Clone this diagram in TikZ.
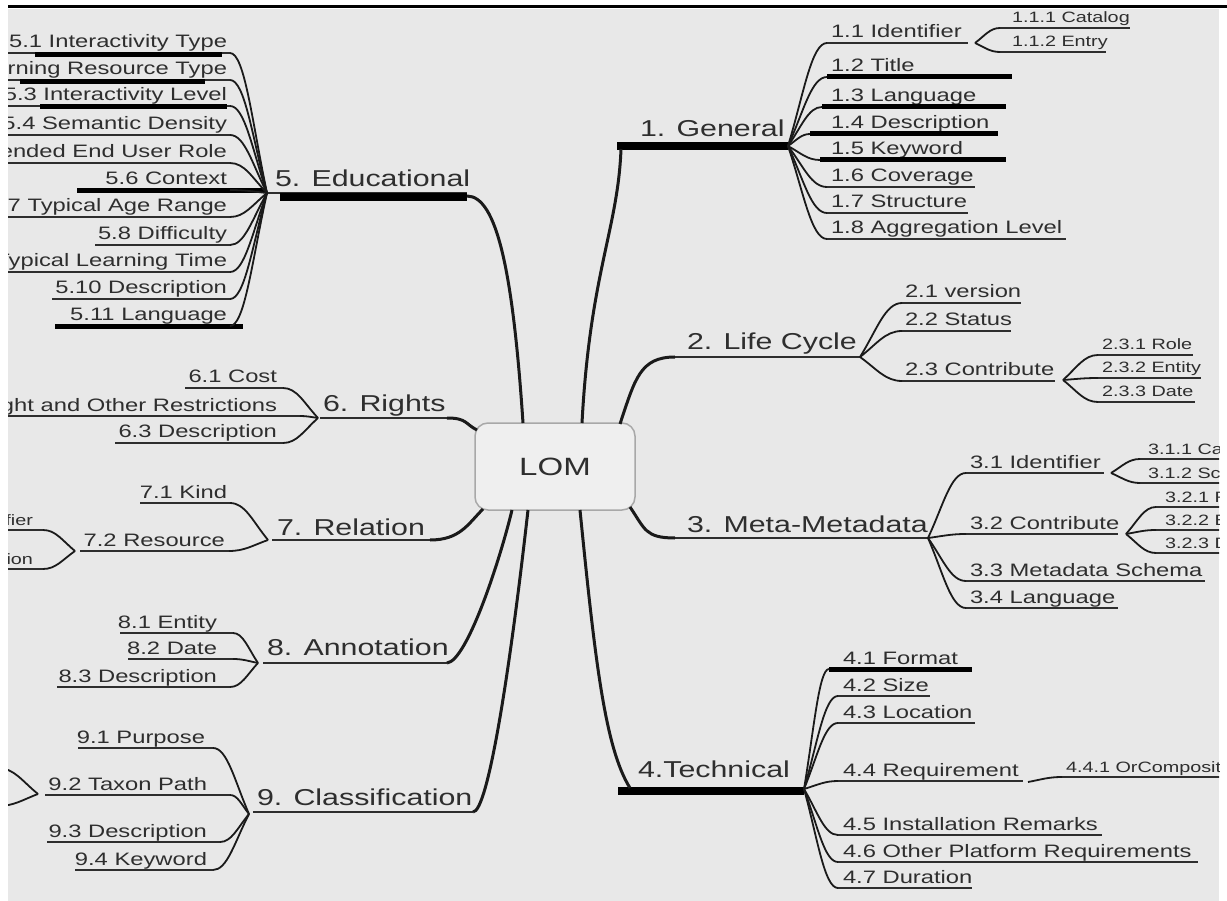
\documentclass[tikz,border=0pt]{standalone}
\usepackage{fontspec}
\usetikzlibrary{calc}
\newfontfamily\mapfont[FakeStretch=1.32]{Liberation Sans}
\definecolor{paper}{HTML}{E8E8E8}
\definecolor{ink}{HTML}{2E2E2E}
\definecolor{wire}{HTML}{1A1A1A}
\definecolor{boxfill}{HTML}{EFEFEF}
\definecolor{boxline}{HTML}{A8A8A8}

\tikzset{
  every node/.style={inner sep=0pt, outer sep=0pt, text=ink},
  rootfont/.style={font={\mapfont\fontsize{25}{25}\selectfont}},
  topic/.style={font={\mapfont\fontsize{23}{24}\selectfont}},
  sub/.style={font={\mapfont\fontsize{18}{18}\selectfont}},
  subsub/.style={font={\mapfont\fontsize{15}{15}\selectfont}},
  uline/.style={draw=ink, line width=1.8pt},
  tline/.style={draw=ink, line width=2.2pt},
  hbar/.style={draw=black, line width=5pt},
  tbar/.style={draw=black, line width=8pt},
  link/.style={draw=wire, line width=1.8pt},
  trunk/.style={draw=wire, line width=3pt},
  lombox/.style={draw=boxline, fill=boxfill, line width=1.5pt, rounded corners=13pt,
    minimum width=160pt, minimum height=87pt, rootfont},
}

% right-hand item: font, name, underline start, underline end, y, text x, text
\newcommand\rsub[7]{%
  \coordinate (#2-a) at (#3,#5);
  \coordinate (#2-b) at (#4,#5);
  \draw[uline] (#2-a) -- (#2-b);
  \node[#1, anchor=base west] (#2) at (#6,{#5-5}) {#7};}
% left-hand item: text is right aligned at the given x
\newcommand\lsub[7]{%
  \coordinate (#2-a) at (#3,#5);
  \coordinate (#2-b) at (#4,#5);
  \draw[uline] (#2-a) -- (#2-b);
  \node[#1, anchor=base east] (#2) at (#6,{#5-5}) {#7};}
% fan-out curve from a junction to an item end
\newcommand\fan[2]{\draw[link] let \p1=(#1), \p2=(#2) in
  (#1) .. controls ({\x1+0.4*(\x2-\x1)},{\y1+0.5*(\y2-\y1)})
        and ({\x1+0.6*(\x2-\x1)},\y2) .. (#2);}

\begin{document}
\begin{tikzpicture}[x=1pt,y=-1pt]
\useasboundingbox (0,0) rectangle (1227,901);
\fill[paper] (8,9) rectangle (1219,901);
\draw[line width=2.5pt] (8,6.5) -- (1227,6.5);

\begin{scope}
\clip (8,9) rectangle (1219,901);

% ---------------- root ----------------
\node[lombox] (lom) at (555,466.5) {LOM};
\coordinate (lom-edu) at ($(lom.north)+(-32,0)$);
\coordinate (lom-gen) at ($(lom.north)+(27,0)$);
\coordinate (lom-lc)  at ($(lom.north east)+(-15,1)$);
\coordinate (lom-mm)  at ($(lom.south east)+(-5,-3)$);
\coordinate (lom-tec) at ($(lom.south)+(25,0)$);
\coordinate (lom-ann) at ($(lom.south)+(-43,0)$);
\coordinate (lom-cls) at ($(lom.south)+(-27,0)$);
\coordinate (lom-rig) at ($(lom.north west)+(2,7)$);
\coordinate (lom-rel) at ($(lom.south west)+(8,-1)$);

% ---------------- 1. General ----------------
\coordinate (gen-a) at (621,149);
\coordinate (gen-b) at (788,146);
\draw[tbar] (617,146) -- (gen-b);
\node[topic, anchor=base west] (gen) at (640,137) {1. General};
\draw[trunk] (lom-gen) .. controls +(8,-150) and +(-3,80) .. (gen-a);

\rsub{sub}{g11}{827}{968}{43}{831}{1.1 Identifier}
\rsub{sub}{g12}{827}{1012}{77}{831}{1.2 Title}
\rsub{sub}{g13}{822}{1006}{107}{831}{1.3 Language}
\rsub{sub}{g14}{810}{998}{134}{831}{1.4 Description}
\rsub{sub}{g15}{820}{1006}{160}{831}{1.5 Keyword}
\rsub{sub}{g16}{827}{975}{187}{831}{1.6 Coverage}
\rsub{sub}{g17}{827}{968}{213}{831}{1.7 Structure}
\rsub{sub}{g18}{827}{1066}{239}{831}{1.8 Aggregation Level}
\draw[hbar] (g12-a) -- (g12-b);
\draw[hbar] (g13-a) -- (g13-b);
\draw[hbar] (g14-a) -- (g14-b);
\draw[hbar] (g15-a) -- (g15-b);
\foreach \k in {g11,g12,g13,g14,g15,g16,g17,g18} {\fan{gen-b}{\k-a}}

\coordinate (g11-J) at ($(g11-b)+(7,0)$);
\rsub{subsub}{g111}{1000}{1130}{28}{1012}{1.1.1 Catalog}
\rsub{subsub}{g112}{1000}{1106}{52}{1012}{1.1.2 Entry}
\fan{g11-J}{g111-a}
\fan{g11-J}{g112-a}

% ---------------- 2. Life Cycle ----------------
\coordinate (lc-a) at (675,357);
\coordinate (lc-b) at (860,357);
\draw[tline] (lc-a) -- (lc-b);
\node[topic, anchor=base west] (lc) at (687,350) {2. Life Cycle};
\draw[trunk] (lom-lc) .. controls +(15,-45) and +(-35,0) .. (lc-a);

\rsub{sub}{l21}{902}{1021}{303}{905}{2.1 version}
\rsub{sub}{l22}{902}{1011}{331}{905}{2.2 Status}
\rsub{sub}{l23}{902}{1055}{381}{905}{2.3 Contribute}
\foreach \k in {l21,l22,l23} {\fan{lc-b}{\k-a}}

\coordinate (l23-J) at ($(l23-b)+(8,-1)$);
\rsub{subsub}{l231}{1098}{1193}{355}{1102}{2.3.1 Role}
\rsub{subsub}{l232}{1098}{1201}{378}{1102}{2.3.2 Entity}
\rsub{subsub}{l233}{1098}{1195}{402}{1102}{2.3.3 Date}
\foreach \k in {l231,l232,l233} {\fan{l23-J}{\k-a}}

% ---------------- 3. Meta-Metadata ----------------
\coordinate (mm-a) at (675,538);
\coordinate (mm-b) at (928,538);
\draw[tline] (mm-a) -- (mm-b);
\node[topic, anchor=base west] (mm) at (687,532) {3. Meta-Metadata};
\draw[trunk] (lom-mm) .. controls +(15,22) and +(-30,0) .. (mm-a);

\rsub{sub}{m31}{966}{1104}{473}{970}{3.1 Identifier}
\rsub{sub}{m32}{966}{1118}{534}{970}{3.2 Contribute}
\rsub{sub}{m33}{966}{1205}{581}{970}{3.3 Metadata Schema}
\rsub{sub}{m34}{966}{1118}{608}{970}{3.4 Language}
\foreach \k in {m31,m32,m33,m34} {\fan{mm-b}{\k-a}}

\coordinate (m31-J) at ($(m31-b)+(7,0)$);
\rsub{subsub}{m311}{1140}{1230}{459}{1148}{3.1.1 Catalog}
\rsub{subsub}{m312}{1140}{1230}{483}{1148}{3.1.2 Schema}
\fan{m31-J}{m311-a}
\fan{m31-J}{m312-a}

\coordinate (m32-J) at ($(m32-b)+(8,0)$);
\rsub{subsub}{m321}{1156}{1230}{507}{1165}{3.2.1 Role}
\rsub{subsub}{m322}{1156}{1230}{530}{1165}{3.2.2 Entity}
\rsub{subsub}{m323}{1156}{1230}{553}{1165}{3.2.3 Date}
\foreach \k in {m321,m322,m323} {\fan{m32-J}{\k-a}}

% ---------------- 4. Technical ----------------
\coordinate (tec-a) at (630,788);
\coordinate (tec-b) at (804,789);
\draw[tbar] (618,791) -- (804,791);
\node[topic, anchor=base west] (tec) at (638,777) {4.Technical};
\draw[trunk] (lom-tec) .. controls +(15,150) and +(-25,-40) .. (tec-a);

\rsub{sub}{t41}{829}{972}{669}{843}{4.1 Format}
\rsub{sub}{t42}{838}{930}{696}{843}{4.2 Size}
\rsub{sub}{t43}{838}{975}{723}{843}{4.3 Location}
\rsub{sub}{t44}{838}{1023}{781}{843}{4.4 Requirement}
\rsub{sub}{t45}{838}{1102}{835}{843}{4.5 Installation Remarks}
\rsub{sub}{t46}{838}{1198}{862}{843}{4.6 Other Platform Requirements}
\rsub{sub}{t47}{838}{972}{888}{843}{4.7 Duration}
\draw[hbar] (t41-a) -- (t41-b);
\foreach \k in {t41,t42,t43,t44,t45,t46,t47} {\fan{tec-b}{\k-a}}

\coordinate (t44-J) at ($(t44-b)+(5,1)$);
\rsub{subsub}{t441}{1062}{1230}{777}{1066}{4.4.1 OrComposite}
\fan{t44-J}{t441-a}

% ---------------- 5. Educational ----------------
\coordinate (edu-a) at (267,193);
\coordinate (edu-b) at (467,196);
\draw[uline] (edu-a) -- (467,193);
\draw[tbar] (280,197) -- (467,197);
\node[topic, anchor=base west] (edu) at (275,187) {5. Educational};
\draw[trunk] (edu-b) .. controls +(30,0) and +(-10,-150) .. (lom-edu);

\lsub{sub}{e51}{0}{230}{53}{227}{5.1 Interactivity Type}
\lsub{sub}{e52}{0}{230}{80}{227}{5.2 Learning Resource Type}
\lsub{sub}{e53}{0}{230}{106}{227}{5.3 Interactivity Level}
\lsub{sub}{e54}{0}{230}{135}{227}{5.4 Semantic Density}
\lsub{sub}{e55}{0}{230}{163}{227}{5.5 Intended End User Role}
\lsub{sub}{e56}{77}{230}{190}{227}{5.6 Context}
\lsub{sub}{e57}{0}{230}{217}{227}{5.7 Typical Age Range}
\lsub{sub}{e58}{95}{230}{245}{227}{5.8 Difficulty}
\lsub{sub}{e59}{0}{230}{272}{227}{5.9 Typical Learning Time}
\lsub{sub}{e510}{52}{230}{299}{227}{5.10 Description}
\lsub{sub}{e511}{55}{230}{326}{227}{5.11 Language}
\draw[hbar] (35,55) -- (222,55);
\draw[hbar] (20,82) -- (205,82);
\draw[hbar] (40,107) -- (227,107);
\draw[hbar] (77,191) -- (267,191);
\draw[hbar] (55,327) -- (243,327);
\foreach \k in {e51,e52,e53,e54,e55,e56,e57,e58,e59,e510,e511} {\fan{edu-a}{\k-b}}

% ---------------- 6. Rights ----------------
\coordinate (rig-a) at (318,418);
\coordinate (rig-b) at (447,418);
\draw[tline] (320,418) -- (rig-b);
\node[topic, anchor=base west] (rig) at (323,412) {6. Rights};
\draw[trunk] (rig-b) .. controls +(20,0) and +(-12,-6) .. (lom-rig);

\lsub{sub}{r61}{185}{283}{388}{277}{6.1 Cost}
\lsub{sub}{r62}{0}{300}{416}{277}{6.2 Copyright and Other Restrictions}
\lsub{sub}{r63}{115}{283}{443}{277}{6.3 Description}
\foreach \k in {r61,r62,r63} {\fan{rig-a}{\k-b}}

% ---------------- 7. Relation ----------------
\coordinate (rel-a) at (268,540);
\coordinate (rel-b) at (430,540);
\draw[tline] (272,540) -- (rel-b);
\node[topic, anchor=base west] (rel) at (277,535) {7. Relation};
\draw[trunk] (rel-b) .. controls +(30,0) and +(-15,15) .. (lom-rel);

\lsub{sub}{n71}{140}{230}{503}{227}{7.1 Kind}
\lsub{sub}{n72}{80}{229}{551}{225}{7.2 Resource}
\fan{rel-a}{n71-b}
\fan{rel-a}{n72-b}

\coordinate (n72-J) at ($(n72-a)+(-5,0)$);
\lsub{subsub}{n721}{0}{43}{530}{33}{7.2.1 Identifier}
\lsub{subsub}{n722}{0}{43}{569}{33}{7.2.2 Description}
\fan{n72-J}{n721-b}
\fan{n72-J}{n722-b}

% ---------------- 8. Annotation ----------------
\coordinate (ann-a) at (258,663);
\coordinate (ann-b) at (447,663);
\draw[tline] (263,663) -- (ann-b);
\node[topic, anchor=base west] (ann) at (267,655) {8. Annotation};
\draw[trunk] (ann-b) .. controls +(20,-2) and +(-12,50) .. (lom-ann);

\lsub{sub}{a81}{120}{233}{633}{217}{8.1 Entity}
\lsub{sub}{a82}{128}{233}{659}{217}{8.2 Date}
\lsub{sub}{a83}{57}{230}{687}{217}{8.3 Description}
\foreach \k in {a81,a82,a83} {\fan{ann-a}{\k-b}}

% ---------------- 9. Classification ----------------
\coordinate (cls-a) at (249,814);
\coordinate (cls-b) at (473,812);
\draw[tline] (253,812) -- (cls-b);
\node[topic, anchor=base west] (cls) at (257,805) {9. Classification};
\draw[trunk] (cls-b) .. controls +(15,0) and +(-18,160) .. (lom-cls);

\lsub{sub}{c91}{78}{213}{748}{205}{9.1 Purpose}
\lsub{sub}{c92}{45}{230}{795}{207}{9.2 Taxon Path}
\lsub{sub}{c93}{47}{220}{842}{207}{9.3 Description}
\lsub{sub}{c94}{75}{213}{870}{207}{9.4 Keyword}
\foreach \k in {c91,c92,c93,c94} {\fan{cls-a}{\k-b}}

\coordinate (c92-J) at ($(c92-a)+(-7,-1)$);
\coordinate (c92-up) at (-2,768);
\coordinate (c92-dn) at (-2,806);
\fan{c92-J}{c92-up}
\fan{c92-J}{c92-dn}

\end{scope}
\end{tikzpicture}
\end{document}
